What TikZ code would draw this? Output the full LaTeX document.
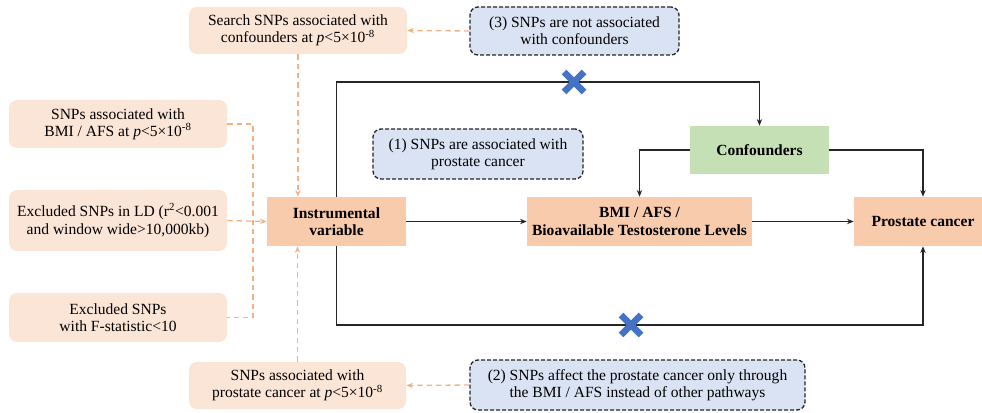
\documentclass[tikz,border=0pt]{standalone}
\usepackage{fontspec}
\setmainfont{Liberation Serif}
\usetikzlibrary{arrows.meta}
\definecolor{lightor}{HTML}{FBE5D6}
\definecolor{midor}{HTML}{F8CBAD}
\definecolor{confg}{HTML}{C5E0B4}
\definecolor{blueb}{HTML}{DAE3F3}
\definecolor{dashor}{HTML}{F4B183}
\definecolor{xblue}{HTML}{4472C4}
\begin{document}
\begin{tikzpicture}[x=0.75pt,y=-0.75pt,
  every node/.style={font=\fontsize{11.65pt}{13pt}\selectfont, align=center, inner sep=0pt},
  soft/.style={fill=lightor, rounded corners=6pt, minimum width=163.5pt},
  hyp/.style={fill=blueb, draw=black!85, line width=1pt, rounded corners=6pt, dash pattern=on 3pt off 1.5pt},
  core/.style={fill=midor, minimum height=36.75pt, font=\fontsize{11.65pt}{13pt}\selectfont\bfseries},
  link/.style={draw=black!85, line width=1.1pt, -{Stealth[length=5pt,width=4pt]}},
  odash/.style={draw=dashor, line width=1pt, dash pattern=on 4pt off 3pt},
  oarrow/.style={odash, -{Stealth[length=5pt,width=4pt]}},
  xmark/.style={draw=xblue, line width=5pt},
]
\useasboundingbox (0,0) rectangle (982,413);

% left input boxes
\node[soft, minimum height=35.25pt] (search) at (298,30.5) {Search SNPs associated with\\confounders at \textit{p}<5×10\textsuperscript{-8}};
\node[soft, minimum height=36pt] (bmisnp) at (118,124) {SNPs associated with\\BMI / AFS at \textit{p}<5×10\textsuperscript{-8}};
\node[soft, minimum height=45.75pt] (ld) at (118,220.5) {Excluded SNPs in LD (r\textsuperscript{2}<0.001\\and window wide>10,000kb)};
\node[soft, minimum height=36.75pt] (fstat) at (118,317.5) {Excluded SNPs\\with F-statistic<10};
\node[soft, minimum width=162.75pt, minimum height=35.25pt] (pcsnp) at (297.5,385.5) {SNPs associated with\\prostate cancer at \textit{p}<5×10\textsuperscript{-8}};

% hypothesis boxes
\node[hyp, minimum width=156.75pt, minimum height=36pt] (c3) at (574.5,31) {(3) SNPs are not associated\\with confounders};
\node[hyp, minimum width=157.5pt, minimum height=37.5pt] (c1) at (478,154) {(1) SNPs are associated with\\prostate cancer};
\node[hyp, minimum width=251.25pt, minimum height=37.5pt] (c2) at (637.5,385) {(2) SNPs affect the prostate cancer only through\\the BMI / AFS instead of other pathways};

% core boxes
\node[core, minimum width=104.25pt] (iv) at (336.5,221.5) {Instrumental\\variable};
\node[core, minimum width=168.75pt] (bmi) at (639.5,221.5) {BMI / AFS /\\Bioavailable Testosterone Levels};
\node[core, minimum width=103.5pt] (pc) at (923,221.5) {Prostate cancer};
\node[core, fill=confg, minimum width=104.25pt, minimum height=36pt] (conf) at (759.5,150) {Confounders};

% orange dashed connectors
\draw[oarrow] (c3.west) -- (search.east);
\draw[oarrow] (c2.west) -- (pcsnp.east);
\draw[oarrow] (search.south) -- (search.south |- iv.north);
\draw[oarrow] (pcsnp.north) -- (pcsnp.north |- iv.south);
\coordinate (busT) at (253,124);
\coordinate (busB) at (253,317.5);
\draw[odash] (bmisnp.east) -- (busT) -- (busB) -- (fstat.east);
\draw[oarrow] (ld.east) -- (iv.west);

% black connectors
\coordinate (tl) at (336.5,82);
\coordinate (bl) at (336.5,325);
\draw[link] (iv.north) -- (tl) -| (conf.north);
\draw[link] (iv.south) -- (bl) -| (pc.south);
\draw[link] (iv.east) -- (bmi.west);
\draw[link] (bmi.east) -- (pc.west);
\draw[link] (conf.west) -| (bmi.north);
\draw[link] (conf.east) -| (pc.north);

% blocked marks
\draw[xmark] (564,72) -- (584,92) (564,92) -- (584,72);
\draw[xmark] (621,315) -- (641,335) (621,335) -- (641,315);
\end{tikzpicture}
\end{document}
